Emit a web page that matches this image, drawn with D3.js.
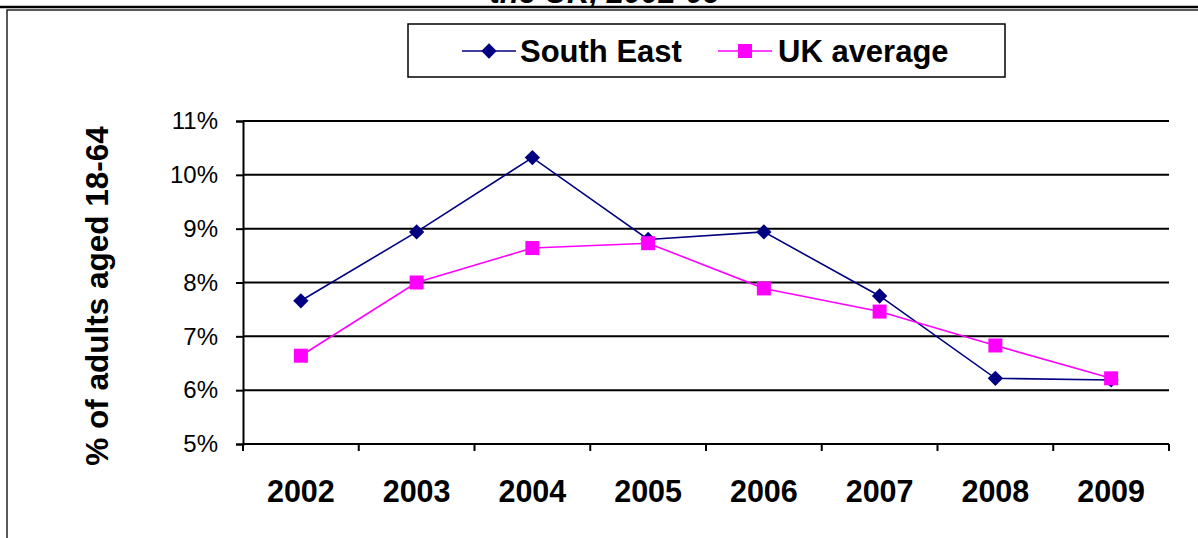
<!DOCTYPE html>
<html>
<head>
<meta charset="utf-8">
<script src="https://cdn.jsdelivr.net/npm/d3@7"></script>
<style>
  html, body { margin: 0; padding: 0; background: #fff; }
  svg { display: block; font-family: "Liberation Sans", Arial, sans-serif; }
</style>
</head>
<body>
<svg id="chart" width="1198" height="538"></svg>
<script>
// Years on the category axis
const years = ["2002", "2003", "2004", "2005", "2006", "2007", "2008", "2009"];
// Percentage of adults aged 18-64, per year
const southEast = [7.66, 8.94, 10.32, 8.80, 8.94, 7.75, 6.22, 6.19];
const ukAverage = [6.64, 8.00, 8.64, 8.73, 7.89, 7.46, 6.83, 6.22];
// Value axis ticks (percent)
const yTicks = [5, 6, 7, 8, 9, 10, 11];
const seriesNames = ["South East", "UK average"];

const navy = "#000080";
const magenta = "#FF00FF";

const svg = d3.select("#chart");

// Title (second line, mostly above the frame)
svg.append("text")
  .attr("x", 605).attr("y", 3)
  .attr("text-anchor", "middle")
  .attr("font-size", 31).attr("font-weight", "bold").attr("font-style", "italic")
  .text("the UK, 2002-09");

// Rule under the title and the chart frame
svg.append("line").attr("x1", 0).attr("x2", 1198).attr("y1", 7).attr("y2", 7)
  .attr("stroke", "#000").attr("stroke-width", 2.5);
svg.append("rect").attr("x", 7).attr("y", 10).attr("width", 1300).attr("height", 600)
  .attr("fill", "none").attr("stroke", "#000").attr("stroke-width", 1.3);

const x = d3.scaleBand().domain(years).range([243, 1169]);
const y = d3.scaleLinear().domain([5, 11]).range([444, 121]);
const cx = d => x(d) + x.bandwidth() / 2;

// Horizontal gridlines
svg.append("g").selectAll("line")
  .data(yTicks.slice(1))
  .join("line")
  .attr("x1", 243).attr("x2", 1169)
  .attr("y1", d => y(d)).attr("y2", d => y(d))
  .attr("stroke", "#000").attr("stroke-width", 2);

// Value axis
const yAxis = svg.append("g")
  .attr("transform", "translate(243,0)")
  .call(d3.axisLeft(y).tickValues(yTicks).tickSize(7).tickPadding(18)
    .tickFormat(d => d + "%"));
yAxis.select(".domain").attr("stroke-width", 2);
yAxis.selectAll(".tick line").attr("stroke-width", 2);
yAxis.selectAll("text").attr("font-size", 24).attr("fill", "#000")
  .attr("font-family", "Liberation Sans, Arial, sans-serif");

// Category axis: baseline, boundary ticks and year labels
svg.append("line").attr("x1", 243).attr("x2", 1169).attr("y1", y(5)).attr("y2", y(5))
  .attr("stroke", "#000").attr("stroke-width", 2);
const edges = years.map(d => x(d)).concat([x.range()[1]]);
svg.append("g").selectAll("line")
  .data(edges)
  .join("line")
  .attr("x1", d => d).attr("x2", d => d)
  .attr("y1", y(5)).attr("y2", y(5) + 7)
  .attr("stroke", "#000").attr("stroke-width", 2);
svg.append("g").selectAll("text")
  .data(years)
  .join("text")
  .attr("x", d => cx(d)).attr("y", 502)
  .attr("text-anchor", "middle")
  .attr("font-size", 30.5).attr("font-weight", "bold")
  .text(d => d);

// Axis title
svg.append("text")
  .attr("transform", "translate(108,296) rotate(-90)")
  .attr("text-anchor", "middle")
  .attr("font-size", 31.5).attr("font-weight", "bold")
  .text("% of adults aged 18-64");

// Series lines
const line = d3.line().x((d, i) => cx(years[i])).y(d => y(d));
svg.append("path").datum(southEast).attr("d", line)
  .attr("fill", "none").attr("stroke", navy).attr("stroke-width", 1.6);
svg.append("path").datum(ukAverage).attr("d", line)
  .attr("fill", "none").attr("stroke", magenta).attr("stroke-width", 1.6);

// Markers
const diamond = d3.symbol().type(d3.symbolDiamond2).size(150);
svg.append("g").selectAll("path")
  .data(southEast)
  .join("path")
  .attr("transform", (d, i) => `translate(${cx(years[i])},${y(d)})`)
  .attr("d", diamond)
  .attr("fill", navy);
const sq = 14;
svg.append("g").selectAll("rect")
  .data(ukAverage)
  .join("rect")
  .attr("x", (d, i) => cx(years[i]) - sq / 2)
  .attr("y", d => y(d) - sq / 2)
  .attr("width", sq).attr("height", sq)
  .attr("fill", magenta);

// Legend
const legend = svg.append("g");
legend.append("rect").attr("x", 408).attr("y", 24).attr("width", 597).attr("height", 53)
  .attr("fill", "#fff").attr("stroke", "#000").attr("stroke-width", 1.5);
const ly = 51;
legend.append("line").attr("x1", 462).attr("x2", 516).attr("y1", ly).attr("y2", ly)
  .attr("stroke", navy).attr("stroke-width", 1.6);
legend.append("path").attr("transform", `translate(489,${ly})`).attr("d", diamond).attr("fill", navy);
legend.append("text").attr("x", 520).attr("y", ly + 11)
  .attr("font-size", 31).attr("font-weight", "bold").text(seriesNames[0]);
legend.append("line").attr("x1", 718).attr("x2", 772).attr("y1", ly).attr("y2", ly)
  .attr("stroke", magenta).attr("stroke-width", 1.6);
legend.append("rect").attr("x", 745 - sq / 2).attr("y", ly - sq / 2)
  .attr("width", sq).attr("height", sq).attr("fill", magenta);
legend.append("text").attr("x", 778).attr("y", ly + 11)
  .attr("font-size", 31).attr("font-weight", "bold").text(seriesNames[1]);
</script>
</body>
</html>
